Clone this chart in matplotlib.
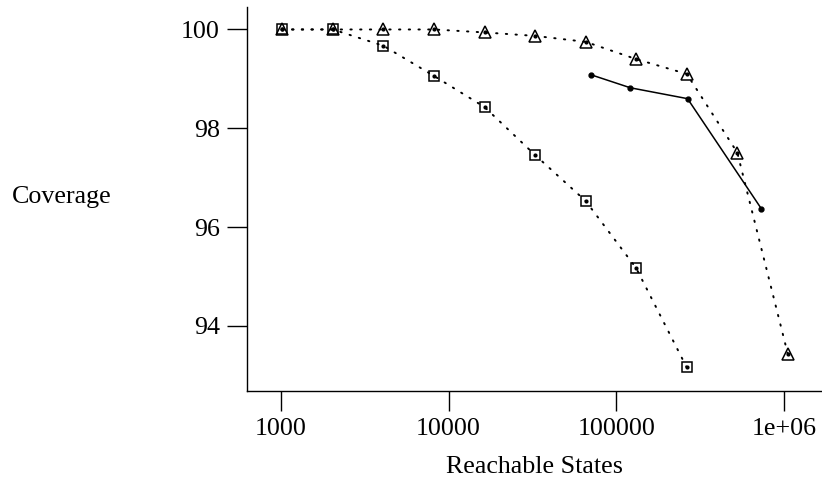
import matplotlib
matplotlib.use('Agg')
import matplotlib.pyplot as plt
from matplotlib.ticker import FixedLocator, FixedFormatter, NullLocator

# powers of two used for the two dotted runs
states = [1024, 2048, 4096, 8192, 16384, 32768, 65536, 131072, 262144, 524288, 1048576]
cov_triangle = [100.0, 100.0, 100.0, 100.0, 99.94, 99.87, 99.75, 99.40, 99.10, 97.51, 93.43]

states_square = [1024, 2048, 4096, 8192, 16384, 32768, 65536, 131072, 262144]
cov_square = [100.0, 100.0, 99.67, 99.06, 98.43, 97.46, 96.53, 95.17, 93.16]

states_solid = [71000, 121000, 265000, 730000]
cov_solid = [99.08, 98.82, 98.60, 96.37]

xticks = [1000, 10000, 100000, 1000000]
xtick_labels = ['1000', '10000', '100000', '1e+06']
yticks = [94, 96, 98, 100]

plt.rcParams['font.family'] = ['Liberation Serif', 'DejaVu Serif']
plt.rcParams['font.size'] = 18.7

fig = plt.figure(figsize=(8.22, 4.82), dpi=100)
ax = fig.add_axes([0.3001, 0.1894, 0.6999, 0.7961])

dotted = (0, (0.7, 4.3))

ax.plot(states, cov_triangle, color='black', linewidth=1.4, linestyle=dotted,
        dash_capstyle='round')
ax.plot(states, cov_triangle, linestyle='none', marker='^', markersize=9,
        markerfacecolor='none', markeredgecolor='black', markeredgewidth=1.1)
ax.plot(states, cov_triangle, linestyle='none', marker='o', markersize=2,
        color='black')

ax.plot(states_square, cov_square, color='black', linewidth=1.4, linestyle=dotted,
        dash_capstyle='round')
ax.plot(states_square, cov_square, linestyle='none', marker='s', markersize=7.5,
        markerfacecolor='none', markeredgecolor='black', markeredgewidth=1.1)
ax.plot(states_square, cov_square, linestyle='none', marker='o', markersize=2,
        color='black')

ax.plot(states_solid, cov_solid, color='black', linewidth=1.1, marker='o',
        markersize=3.5)

ax.set_xscale('log')
ax.set_xlim(10 ** 2.798, 10 ** 6.224)
ax.set_ylim(92.69, 100.455)

ax.xaxis.set_major_locator(FixedLocator(xticks))
ax.xaxis.set_major_formatter(FixedFormatter(xtick_labels))
ax.xaxis.set_minor_locator(NullLocator())
ax.set_yticks(yticks)
ax.set_yticklabels([str(v) for v in yticks])

ax.spines['top'].set_visible(False)
ax.spines['right'].set_visible(False)
for s in ['left', 'bottom']:
    ax.spines[s].set_linewidth(1.0)
ax.tick_params(direction='out', length=14.4, width=1.0, pad=5)

fig.text(61.7 / 822, 1 - 196.7 / 482, 'Coverage', ha='center', va='center')
fig.text(534.5 / 822, 1 - 467 / 482, 'Reachable States', ha='center', va='center')

fig.savefig('out.png', dpi=100)
